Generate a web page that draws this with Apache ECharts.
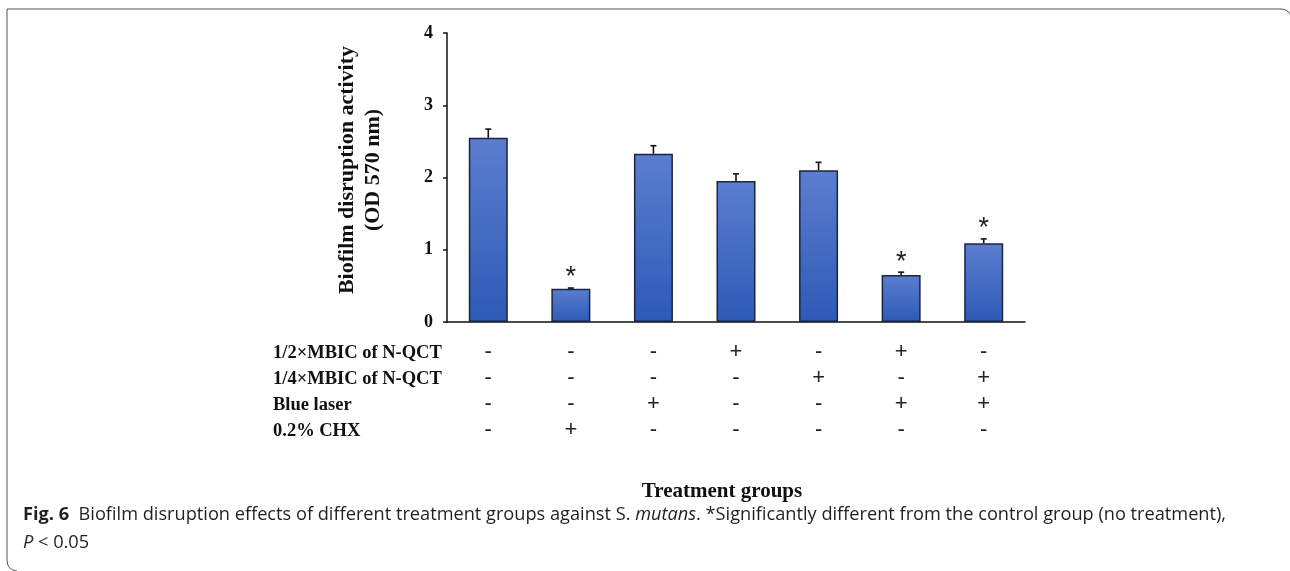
<!DOCTYPE html>
<html>
<head>
<meta charset="utf-8">
<script src="https://cdn.jsdelivr.net/npm/echarts@6/dist/echarts.min.js"></script>
<style>
  html, body { margin: 0; padding: 0; background: #fff; }
  #main { width: 1290px; height: 571px; }
</style>
</head>
<body>
<div id="main"></div>
<script>
// 数据
const groups = ['G1', 'G2', 'G3', 'G4', 'G5', 'G6', 'G7'];
const meanOD = [2.55, 0.46, 2.33, 1.95, 2.10, 0.65, 1.09];
const errorOD = [0.12, 0.01, 0.11, 0.10, 0.11, 0.04, 0.06];
const significant = [false, true, false, false, false, true, true];
const yTicks = [0, 1, 2, 3, 4];

const treatmentNames = ['1/2×MBIC of N-QCT', '1/4×MBIC of N-QCT', 'Blue laser', '0.2% CHX'];
const treatmentSigns = [
    ['-', '-', '-', '+', '-', '+', '-'],
    ['-', '-', '-', '-', '+', '-', '+'],
    ['-', '-', '+', '-', '-', '+', '+'],
    ['-', '+', '-', '-', '-', '-', '-']
];

const serif = '"Liberation Serif", "Times New Roman", serif';
const sans = '"Liberation Sans", Arial, sans-serif';
const captionFont = '"Open Sans", sans-serif';

let chart = echarts.init(document.getElementById('main'));

// 每组的 +/- 标记，按行拼成多行标签
function signLabel(value, idx) {
    return treatmentSigns.map(row => row[idx]).join('\n');
}

// 误差线 + 显著性星号
function renderErrorBar(params, api) {
    let idx = api.value(0);
    let base = api.coord([idx, api.value(1)]);
    let top = api.coord([idx, api.value(1) + api.value(2)]);
    let cap = 3;
    let lineStyle = { stroke: '#111', lineWidth: 1.6 };
    let children = [
        { type: 'line', shape: { x1: base[0], y1: base[1], x2: top[0], y2: top[1] }, style: lineStyle },
        { type: 'line', shape: { x1: top[0] - cap, y1: top[1], x2: top[0] + cap, y2: top[1] }, style: lineStyle }
    ];
    if (api.value(3)) {
        children.push({
            type: 'text',
            x: top[0], y: top[1] - 10,
            style: { text: '*', fontSize: 27, fontFamily: sans, fill: '#222', align: 'center', verticalAlign: 'middle' }
        });
    }
    return { type: 'group', children: children };
}

let frameStyle = { stroke: '#555', lineWidth: 1, fill: null };
let graphics = [
    // 外框
    { type: 'line', shape: { x1: 7, y1: 9, x2: 1281, y2: 9 }, style: frameStyle },
    { type: 'bezierCurve', shape: { x1: 1281, y1: 9, cpx1: 1289, cpy1: 9, x2: 1291, y2: 17 }, style: frameStyle },
    { type: 'line', shape: { x1: 7, y1: 9, x2: 7, y2: 560 }, style: frameStyle },
    { type: 'bezierCurve', shape: { x1: 7, y1: 560, cpx1: 7, cpy1: 570, x2: 17, y2: 571 }, style: frameStyle },
    // y 轴标题
    {
        type: 'text',
        x: 360, y: 170, rotation: Math.PI / 2,
        style: {
            text: 'Biofilm disruption activity\n(OD 570 nm)',
            font: 'bold 22px ' + serif, lineHeight: 26,
            fill: '#111', align: 'center', verticalAlign: 'middle'
        }
    },
    // x 轴标题
    {
        type: 'text',
        x: 722, y: 492,
        style: { text: 'Treatment groups', font: 'bold 21px ' + serif, fill: '#111', align: 'center', verticalAlign: 'middle' }
    },
    // 图注
    {
        type: 'text',
        x: 23, y: 501,
        style: {
            text: '{b|Fig. 6}  Biofilm disruption effects of different treatment groups against S. {i|mutans}. *Significantly different from the control group (no treatment),\n{i|P} < 0.05',
            fontFamily: captionFont, fontSize: 18.2, lineHeight: 28, fill: '#231f20',
            verticalAlign: 'top',
            rich: {
                b: { fontWeight: 'bold', fontFamily: captionFont, fontSize: 18.2, fill: '#231f20' },
                i: { fontStyle: 'italic', fontFamily: captionFont, fontSize: 18.2, fill: '#231f20' }
            }
        }
    }
];

// 处理行标题
treatmentNames.forEach((name, i) => {
    graphics.push({
        type: 'text',
        x: 273, y: 353 + i * 26,
        style: { text: name, font: 'bold 18.5px ' + serif, fill: '#111', align: 'left', verticalAlign: 'middle' }
    });
});

let option = {
    animation: false,
    grid: { left: 447, right: 265, top: 33, bottom: 249, containLabel: false },
    xAxis: {
        type: 'category',
        data: groups,
        axisLine: { lineStyle: { color: '#111', width: 1.5 } },
        axisTick: { show: false },
        axisLabel: {
            formatter: signLabel,
            interval: 0,
            margin: 17,
            fontFamily: sans,
            fontSize: 22,
            lineHeight: 26,
            color: '#222'
        }
    },
    yAxis: {
        type: 'value',
        min: yTicks[0],
        max: yTicks[yTicks.length - 1],
        interval: 1,
        splitLine: { show: false },
        axisLine: { show: true, lineStyle: { color: '#111', width: 1.5 } },
        axisTick: { show: true, inside: false, length: 4, lineStyle: { color: '#111', width: 1.5 } },
        axisLabel: { margin: 14, fontFamily: serif, fontWeight: 'bold', fontSize: 18, color: '#111' }
    },
    series: [
        {
            type: 'bar',
            data: meanOD,
            barWidth: 39,
            itemStyle: {
                color: {
                    type: 'linear', x: 0, y: 0, x2: 0, y2: 1,
                    colorStops: [
                        { offset: 0, color: '#5b7ecf' },
                        { offset: 1, color: '#2d5ab6' }
                    ]
                },
                borderColor: '#1b2440',
                borderWidth: 1.5
            }
        },
        {
            type: 'custom',
            renderItem: renderErrorBar,
            data: groups.map((g, i) => [i, meanOD[i], errorOD[i], significant[i] ? 1 : 0]),
            z: 5
        }
    ],
    graphic: graphics
};

chart.setOption(option);
</script>
</body>
</html>
